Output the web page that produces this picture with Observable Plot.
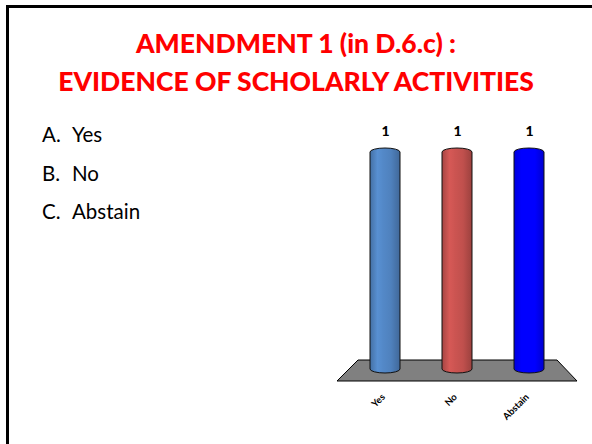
<!DOCTYPE html>
<html>
<head>
<meta charset="utf-8">
<script src="https://cdn.jsdelivr.net/npm/d3@7"></script>
<script src="https://cdn.jsdelivr.net/npm/@observablehq/plot@0.6"></script>
<style>
  html, body { margin: 0; padding: 0; background: #fff; }
  #slide { position: relative; width: 592px; height: 444px; overflow: hidden; font-family: Lato, "Open Sans", sans-serif; }
  #borderTop { position: absolute; left: 6px; top: 5px; width: 586px; height: 2.5px; background: #000; }
  #borderLeft { position: absolute; left: 6px; top: 5px; width: 2.5px; height: 439px; background: #000; }
  #title { position: absolute; left: 0; top: 24px; width: 592px; text-align: center; color: #ff0000; font-weight: 900; font-size: 26.5px; line-height: 38px; }
  #list { position: absolute; left: 42px; top: 115px; font-size: 20.5px; line-height: 38.5px; color: #000; }
  #list span.k { display: inline-block; width: 30px; }
  #chart { position: absolute; left: 330px; top: 115px; }
</style>
</head>
<body>
<div id="slide">
  <div id="borderTop"></div>
  <div id="borderLeft"></div>
  <div id="title"></div>
  <div id="list"></div>
  <div id="chart"></div>
</div>
<script>
const titleLines = ["AMENDMENT 1 (in D.6.c) :", "EVIDENCE OF SCHOLARLY ACTIVITIES"];
const optionKeys = ["A.", "B.", "C."];
const categories = ["Yes", "No", "Abstain"];
const values = [1, 1, 1];
const colors = ["#4F81BD", "#C0504D", "#0000FF"];

document.getElementById("title").innerHTML = titleLines.map(t => `<div>${t}</div>`).join("");
document.getElementById("list").innerHTML = categories.map((c, i) => `<div><span class="k">${optionKeys[i]}</span>${c}</div>`).join("");

const data = categories.map((c, i) => ({category: c, value: values[i], color: colors[i]}));

// gradient defs for cylinder shading
const defsMark = () => {
  const ns = "http://www.w3.org/2000/svg";
  const g = document.createElementNS(ns, "g");
  const defs = document.createElementNS(ns, "defs");
  data.forEach((d, i) => {
    const lg = document.createElementNS(ns, "linearGradient");
    lg.setAttribute("id", "cyl" + i);
    lg.setAttribute("x1", "0"); lg.setAttribute("x2", "1");
    lg.setAttribute("y1", "0"); lg.setAttribute("y2", "0");
    const c = d3.color(d.color);
    const stops = [[0, c.darker(0.4)], [0.25, c.brighter(0.3)], [0.45, c.brighter(0.15)], [0.7, c], [1, c.darker(0.6)]];
    stops.forEach(([o, col]) => {
      const s = document.createElementNS(ns, "stop");
      s.setAttribute("offset", o);
      s.setAttribute("stop-color", col.formatHex());
      lg.appendChild(s);
    });
    defs.appendChild(lg);
  });
  g.appendChild(defs);
  return g;
};

// perspective floor drawn from the scales
const floorMark = (index, scales, values, dims) => {
  const ns = "http://www.w3.org/2000/svg";
  const y0 = scales.y(0);
  const xl = dims.marginLeft, xr = dims.width - dims.marginRight;
  const p = document.createElementNS(ns, "path");
  const top = y0 - 11, bot = y0 + 10;
  p.setAttribute("d", `M${xl - 4},${top}L${xr + 5},${top}L${xr + 25},${bot}L${xl - 25},${bot}Z`);
  p.setAttribute("fill", "#808080");
  p.setAttribute("stroke", "#000");
  p.setAttribute("stroke-width", "1");
  return p;
};

const chart = Plot.plot({
  width: 262,
  height: 310,
  marginLeft: 32,
  marginRight: 40,
  marginTop: 36,
  marginBottom: 54,
  x: {domain: categories, paddingInner: 0.59, paddingOuter: 0.1, axis: null},
  y: {domain: [0, 1], axis: null},
  marks: [
    defsMark,
    floorMark,
    Plot.rectY(data, {
      x: "category", y1: 0, y2: "value",
      fill: (d) => `url(#cyl${categories.indexOf(d.category)})`,
      stroke: "#111", strokeWidth: 1, rx: 15, ry: 4, insetTop: -3, insetBottom: -2
    }),
    Plot.text(data, {x: "category", y: "value", text: d => String(d.value), dy: -20, fontWeight: 900, fontSize: 14, fill: "#000", fontFamily: "Lato, sans-serif"}),
    Plot.text(data, {x: "category", y: 0, text: "category", rotate: -45, textAnchor: "end", dx: -2, dy: 24, fontWeight: "bold", fontSize: 9.5, fill: "#000", fontFamily: "Lato, sans-serif"})
  ]
});
document.getElementById("chart").appendChild(chart);
</script>
</body>
</html>
